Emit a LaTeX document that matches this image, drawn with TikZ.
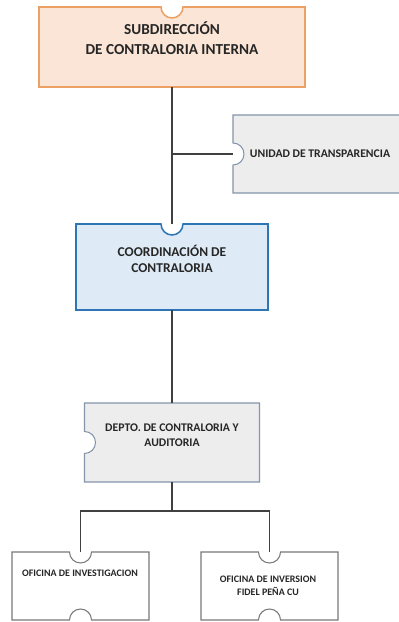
\documentclass[tikz,border=0pt]{standalone}
\usepackage{fontspec}
\setmainfont{Carlito}
\usepackage{tikz}
\usetikzlibrary{calc}

\definecolor{subfill}{RGB}{251,229,214}
\definecolor{subline}{RGB}{236,160,100}
\definecolor{coordfill}{RGB}{222,235,247}
\definecolor{coordline}{RGB}{46,117,182}
\definecolor{grayfill}{RGB}{237,237,237}
\definecolor{grayline}{RGB}{132,148,170}
\definecolor{officeline}{RGB}{120,120,120}
\definecolor{linkcol}{RGB}{64,64,64}
\definecolor{txtcol}{RGB}{38,38,38}
\def\notchr{0.33cm}

\begin{document}
\begin{tikzpicture}[x=0.03cm, y=-0.03cm,
  box/.style={rectangle, inner sep=0pt, outer sep=0pt},
  subbox/.style={draw=subline, fill=subfill, line width=1.3pt},
  coordbox/.style={draw=coordline, fill=coordfill, line width=1.3pt},
  graybox/.style={draw=grayline, fill=grayfill, line width=0.9pt},
  officebox/.style={draw=officeline, fill=white, line width=0.9pt},
  link/.style={draw=linkcol, line width=1.1pt},
  txt/.style={align=center, text=txtcol, inner sep=0pt},
  bigtxt/.style={txt, font=\bfseries\fontsize{13}{17}\selectfont},
  midtxt/.style={txt, font=\bfseries\fontsize{11.5}{13.6}\selectfont},
  smalltxt/.style={txt, font=\bfseries\fontsize{10}{12.8}\selectfont},
  tinytxt/.style={txt, font=\bfseries\fontsize{8.5}{11}\selectfont}]

  \useasboundingbox (0,0) rectangle (399,622);

  \node[box, minimum width=7.98cm, minimum height=2.4cm] (sub) at (172,47) {};
  \node[box, minimum width=5.07cm, minimum height=2.34cm] (transp) at (317.5,154) {};
  \node[box, minimum width=5.76cm, minimum height=2.58cm] (coord) at (172,267) {};
  \node[box, minimum width=5.25cm, minimum height=2.37cm] (depto) at (172,442.5) {};
  \node[box, minimum width=4.11cm, minimum height=2.04cm] (inv) at (80.5,586) {};
  \node[box, minimum width=4.11cm, minimum height=2.04cm] (fid) at (269.5,586) {};

  \draw[subbox] (sub.north west) -- ([xshift=-\notchr]sub.north)
    arc[start angle=180, end angle=360, radius=\notchr]
    -- (sub.north east) -- (sub.south east) -- (sub.south west) -- cycle;
  \draw[graybox] (transp.north west) -- (transp.north east) -- (transp.south east)
    -- (transp.south west) -- ([yshift=-\notchr]transp.west)
    arc[start angle=-90, end angle=90, radius=\notchr] -- cycle;
  \draw[coordbox] (coord.north west) -- ([xshift=-\notchr]coord.north)
    arc[start angle=180, end angle=360, radius=\notchr]
    -- (coord.north east) -- (coord.south east) -- (coord.south west) -- cycle;
  \draw[graybox] (depto.north west) -- (depto.north east) -- (depto.south east)
    -- (depto.south west) -- ([yshift=-\notchr]depto.west)
    arc[start angle=-90, end angle=90, radius=\notchr] -- cycle;
  \foreach \o in {inv, fid}
    \draw[officebox] (\o.north west) -- ([xshift=-\notchr]\o.north)
      arc[start angle=180, end angle=360, radius=\notchr]
      -- (\o.north east) -- (\o.south east) -- ([xshift=\notchr]\o.south)
      arc[start angle=0, end angle=180, radius=\notchr]
      -- (\o.south west) -- cycle;

  \node[bigtxt] (subtxt) at (172,38) {SUBDIRECCIÓN\\DE CONTRALORIA INTERNA};
  \node[smalltxt] (transptxt) at (320,154) {UNIDAD DE TRANSPARENCIA};
  \node[midtxt] (coordtxt) at (172,259) {COORDINACIÓN DE\\CONTRALORIA};
  \node[smalltxt] (deptotxt) at (172,435.5) {DEPTO. DE CONTRALORIA Y\\AUDITORIA};
  \node[tinytxt] (invtxt) at (80,573) {OFICINA DE INVESTIGACION};
  \node[tinytxt] (fidtxt) at (268,585.5) {OFICINA DE INVERSION\\FIDEL PEÑA CU};

  \coordinate (fork) at (172,511);
  \draw[link] (sub.south) -- (coord.north);
  \draw[link] (sub.south |- transp.west) -- (transp.west);
  \draw[link] (coord.south) -- (depto.north);
  \draw[link] (depto.south) -- (fork);
  \draw[link] (inv.north) |- (fork) -| (fid.north);
\end{tikzpicture}
\end{document}
